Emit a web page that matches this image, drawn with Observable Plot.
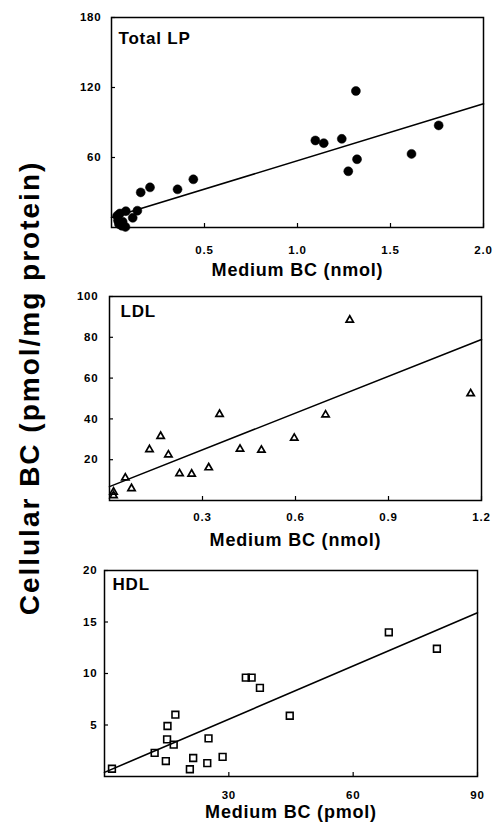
<!DOCTYPE html>
<html>
<head>
<meta charset="utf-8">
<script src="https://cdn.jsdelivr.net/npm/d3@7"></script>
<script src="https://cdn.jsdelivr.net/npm/@observablehq/plot@0.6"></script>
<style>
  html, body { margin: 0; padding: 0; background: #fff; }
  #wrap { position: relative; width: 494px; height: 823px; overflow: hidden; background: #fff; }
  .panel { position: absolute; left: 0; }
  #ylab {
    position: absolute; left: 30px; top: 388px;
    transform: translate(-50%, -50%) rotate(-90deg);
    white-space: nowrap; font-family: "Liberation Sans", Arial, sans-serif;
    font-weight: bold; font-size: 28px; letter-spacing: 2px; color: #000; z-index: 5;
  }
</style>
</head>
<body>
<div id="wrap"><div id="ylab">Cellular BC (pmol/mg protein)</div></div>
<script>
// ---------- Data ----------
// Total LP: medium BC (nmol) vs cellular BC (pmol/mg protein)
const lpX = [1.314, 1.759, 1.096, 1.141, 1.238, 1.613, 1.32, 1.273, 0.44, 0.355, 0.207, 0.157, 0.139, 0.077, 0.114, 0.03, 0.035, 0.04, 0.055, 0.075, 0.06, 0.045];
const lpY = [117, 87.5, 74.6, 72.3, 76, 63.1, 58.5, 48.2, 41.3, 32.7, 34.4, 30.1, 14.4, 14, 8.3, 10, 6, 3, 1.5, 0.5, 5, 12];
const lpFitX = [0, 2.0];
const lpFitY = [8.5, 106];

// LDL
const ldlX = [0.775, 1.165, 0.355, 0.697, 0.165, 0.596, 0.129, 0.421, 0.49, 0.19, 0.32, 0.226, 0.265, 0.051, 0.071, 0.013, 0.013];
const ldlY = [88.5, 52.4, 42.3, 42, 31.5, 30.6, 25, 25.2, 24.7, 22.4, 16.1, 13.2, 13, 11.1, 5.9, 4.2, 2.4];
const ldlFitX = [0, 1.2];
const ldlFitY = [6.8, 78.9];

// HDL: medium BC (pmol)
const hdlX = [68.6, 80.2, 34.1, 35.5, 37.5, 44.7, 17.1, 15.2, 15.1, 16.7, 25.1, 12.1, 21.4, 28.5, 14.8, 24.8, 20.6, 1.8];
const hdlY = [14.0, 12.4, 9.6, 9.6, 8.6, 5.9, 6.0, 4.9, 3.6, 3.1, 3.7, 2.3, 1.8, 1.9, 1.5, 1.3, 0.7, 0.75];
const hdlFitX = [0, 90];
const hdlFitY = [0.4, 15.9];

// Tick values
const lpXTicks = [0.5, 1.0, 1.5, 2.0];
const lpYTicks = [60, 120, 180];
const ldlXTicks = [0.3, 0.6, 0.9, 1.2];
const ldlYTicks = [20, 40, 60, 80, 100];
const hdlXTicks = [30, 60, 90];
const hdlYTicks = [5, 10, 15, 20];

const panelNames = ["Total LP", "LDL", "HDL"];
const xTitles = ["Medium BC (nmol)", "Medium BC (nmol)", "Medium BC (pmol)"];

const zip = (xs, ys) => xs.map((x, i) => ({x, y: ys[i]}));

const FONT = "'Liberation Sans', Arial, Helvetica, sans-serif";
const W = 494;

function panel(cfg) {
  const fw = W - cfg.ml - cfg.mr;
  const fh = cfg.height - cfg.mt - cfg.mb;
  const chart = Plot.plot({
    width: W,
    height: cfg.height,
    marginLeft: cfg.ml, marginRight: cfg.mr, marginTop: cfg.mt, marginBottom: cfg.mb,
    x: {domain: cfg.xDomain},
    y: {domain: cfg.yDomain},
    style: {background: "transparent", fontFamily: FONT, fontWeight: "bold", fontSize: "11.5px", color: "black", letterSpacing: "0.8px"},
    marks: [
      Plot.frame({stroke: "black", strokeWidth: 1.5}),
      Plot.tickY(cfg.yTicks, {y: d => d, insetRight: fw - 4, stroke: "black", strokeWidth: 1.2}),
      Plot.tickX(cfg.xTicks, {x: d => d, insetTop: fh - 4, stroke: "black", strokeWidth: 1.2}),
      Plot.axisY(cfg.yTicks, {tickSize: 0, tickPadding: cfg.yPad, label: null, fontSize: 11.5, fontWeight: "bold", fill: "black"}),
      Plot.axisX(cfg.xTicks, {tickSize: 0, tickPadding: cfg.xPad, label: null, tickFormat: cfg.xFmt, fontSize: 11.5, fontWeight: "bold", fill: "black"}),
      Plot.line(cfg.fit, {x: "x", y: "y", stroke: "black", strokeWidth: 1.6}),
      Plot.dot(cfg.data, {x: "x", y: "y", symbol: cfg.symbol, r: cfg.r, fill: cfg.fill, stroke: "black", strokeWidth: cfg.sw}),
      Plot.text([cfg.name], {text: d => d, frameAnchor: "top-left", dx: cfg.nameDx, dy: cfg.nameDy, textAnchor: "start", lineAnchor: "top", fontSize: 17, fontWeight: "bold", fill: "black"}),
      Plot.text([cfg.title], {text: d => d, frameAnchor: "bottom", dy: cfg.titleDy, lineAnchor: "middle", fontSize: 18, fontWeight: "bold", fill: "black"})
    ]
  });
  const div = document.createElement("div");
  div.className = "panel";
  div.style.top = cfg.top + "px";
  div.appendChild(chart);
  document.getElementById("wrap").appendChild(div);
}

const f1 = d3.format(".1f");

panel({
  top: 0, height: 280, ml: 111, mr: 11, mt: 17, mb: 53,
  xDomain: [0, 2], yDomain: [0, 180],
  xTicks: lpXTicks, yTicks: lpYTicks, xFmt: f1,
  data: zip(lpX, lpY), fit: zip(lpFitX, lpFitY),
  symbol: "circle", r: 4.5, fill: "black", sw: 0.5,
  name: panelNames[0], title: xTitles[0],
  xPad: 18, yPad: 10, titleDy: 43, nameDx: 7, nameDy: 14
});

panel({
  top: 280, height: 270, ml: 109, mr: 13, mt: 16, mb: 50,
  xDomain: [0, 1.2], yDomain: [0, 100],
  xTicks: ldlXTicks, yTicks: ldlYTicks, xFmt: f1,
  data: zip(ldlX, ldlY), fit: zip(ldlFitX, ldlFitY),
  symbol: "triangle", r: 2.7, fill: "none", sw: 1.7,
  name: panelNames[1], title: xTitles[1],
  xPad: 12, yPad: 11, titleDy: 40, nameDx: 11, nameDy: 8
});

panel({
  top: 550, height: 273, ml: 104, mr: 17, mt: 20, mb: 47,
  xDomain: [0, 90], yDomain: [0, 20],
  xTicks: hdlXTicks, yTicks: hdlYTicks, xFmt: d3.format("d"),
  data: zip(hdlX, hdlY), fit: zip(hdlFitX, hdlFitY),
  symbol: "square", r: 3.8, fill: "none", sw: 1.6,
  name: panelNames[2], title: xTitles[2],
  xPad: 14, yPad: 7, titleDy: 36, nameDx: 8, nameDy: 7
});
</script>
</body>
</html>
